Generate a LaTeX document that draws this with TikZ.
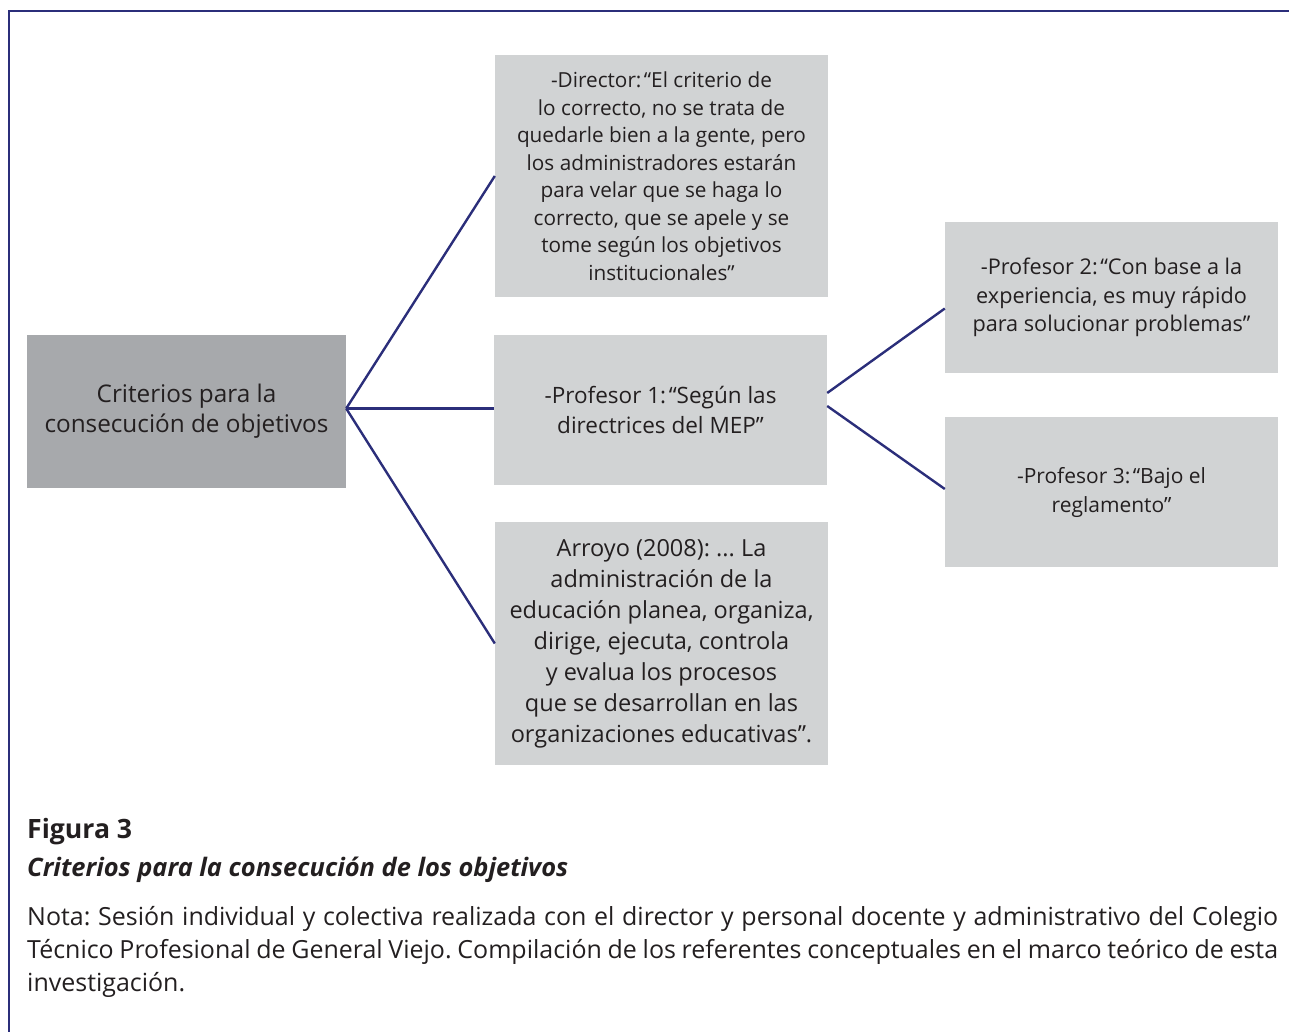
\documentclass[tikz,border=0pt]{standalone}
\usepackage{fontspec}
\setmainfont{Open Sans}
\definecolor{navy}{RGB}{43,46,122}
\definecolor{darkbox}{RGB}{167,169,172}
\definecolor{lightbox}{RGB}{209,211,212}
\definecolor{ink}{RGB}{35,31,32}
\newsavebox\fitbox
\newlength\fitlen
\newcommand\fitsize[3]{\sbox\fitbox{\fontsize{20}{24}\selectfont #3}\setlength\fitlen{\wd\fitbox}\pgfmathsetmacro#1{20*#2/\fitlen}}
\newcommand\fitsizeB[3]{\sbox\fitbox{\fontsize{20}{24}\selectfont\bfseries #3}\setlength\fitlen{\wd\fitbox}\pgfmathsetmacro#1{20*#2/\fitlen}}
\newcommand\fitsizeBI[3]{\sbox\fitbox{\fontsize{20}{24}\selectfont\bfseries\itshape #3}\setlength\fitlen{\wd\fitbox}\pgfmathsetmacro#1{20*#2/\fitlen}}
\newcommand\qsp{\hspace{0.12em}}
\frenchspacing
\begin{document}
\fitsize\sMain{284}{consecución de objetivos}%
\fitsize\sDir{289}{quedarle bien a la gente, pero}%
\fitsize\sArr{304}{educación planea, organiza,}%
\fitsize\sPa{232}{-Profesor 1:\qsp“Según las}%
\fitsize\sPb{278}{para solucionar problemas”}%
\fitsize\sPc{189}{-Profesor 3:\qsp“Bajo el}%
\fitsizeB\sFig{105}{Figura 3}%
\fitsizeBI\sTit{541}{Criterios para la consecución de los objetivos}%
\fitsize\sNota{158}{investigación.}%
\begin{tikzpicture}[x=1pt,y=-1pt,
  box/.style={rectangle, draw=none, inner sep=0pt, align=center, text=ink,
    minimum width=333pt},
  link/.style={draw=navy, line width=2.4pt},
  frame/.style={draw=navy, line width=2.8pt},
  caption/.style={anchor=base west, inner sep=0pt, text=ink}]
\useasboundingbox (0,0) rectangle (1289,1032);
% frame
\draw[frame] (1289,11) -- (9,11) -- (9,1032);
% boxes
\node[box, fill=darkbox, minimum width=319pt, minimum height=153pt,
  font=\fontsize{\sMain}{30}\selectfont] (main) at (186.5,411.5)
  {Criterios para la\\consecución de objetivos};
\node[box, fill=lightbox, minimum height=242pt,
  font=\fontsize{\sDir}{27.5}\selectfont] (dir) at (661.5,176)
  {-Director:\qsp“El criterio de\\lo correcto, no se trata de\\quedarle bien a la gente, pero\\los administradores estarán\\para velar que se haga lo\\correcto, que se apele y se\\tome según los objetivos\\institucionales”};
\node[box, fill=lightbox, minimum height=150pt,
  font=\fontsize{\sPa}{30}\selectfont] (p1) at (660.5,410)
  {-Profesor 1:\qsp“Según las\\directrices del MEP”};
\node[box, fill=lightbox, minimum height=243pt,
  font=\fontsize{\sArr}{31}\selectfont] (arr) at (661.5,643.5)
  {Arroyo (2008): ... La\\administración de la\\educación planea, organiza,\\dirige, ejecuta, controla\\y evalua los procesos\\que se desarrollan en las\\organizaciones educativas”.};
\node[box, fill=lightbox, minimum height=151pt,
  font=\fontsize{\sPb}{28.5}\selectfont] (p2) at (1111.5,297.5)
  {-Profesor 2:\qsp“Con base a la\\experiencia, es muy rápido\\para solucionar problemas”};
\node[box, fill=lightbox, minimum height=150pt,
  font=\fontsize{\sPc}{29}\selectfont] (p3) at (1111.5,492)
  {-Profesor 3:\qsp“Bajo el\\reglamento”};
% connectors
\coordinate (hub) at ([yshift=3pt]main.east);
\draw[link] (hub) -- (dir.west);
\draw[link] (hub) -- (hub -| p1.west);
\draw[link] (hub) -- (arr.west);
\draw[link] ([yshift=17pt]p1.east) -- ([yshift=-11pt]p2.west);
\draw[link] ([yshift=4pt]p1.east) -- ([yshift=3pt]p3.west);
% caption
\node[caption, font=\fontsize{\sFig}{24}\selectfont\bfseries] (fig) at (27,838) {Figura 3};
\node[caption, font=\fontsize{\sTit}{24}\selectfont\bfseries\itshape] (tit) at (27,876) {Criterios para la consecución de los objetivos};
\node[caption, font=\fontsize{\sNota}{24}\selectfont] (n1) at (27,925)
  {\makebox[1251pt][s]{Nota: Sesión individual y colectiva realizada con el director y personal docente y administrativo del Colegio}};
\node[caption, font=\fontsize{\sNota}{24}\selectfont] (n2) at (27,958)
  {\makebox[1251pt][s]{Técnico Profesional de General Viejo. Compilación de los referentes conceptuales en el marco teórico de esta}};
\node[caption, font=\fontsize{\sNota}{24}\selectfont] (n3) at (27,991) {investigación.};
\end{tikzpicture}
\end{document}
